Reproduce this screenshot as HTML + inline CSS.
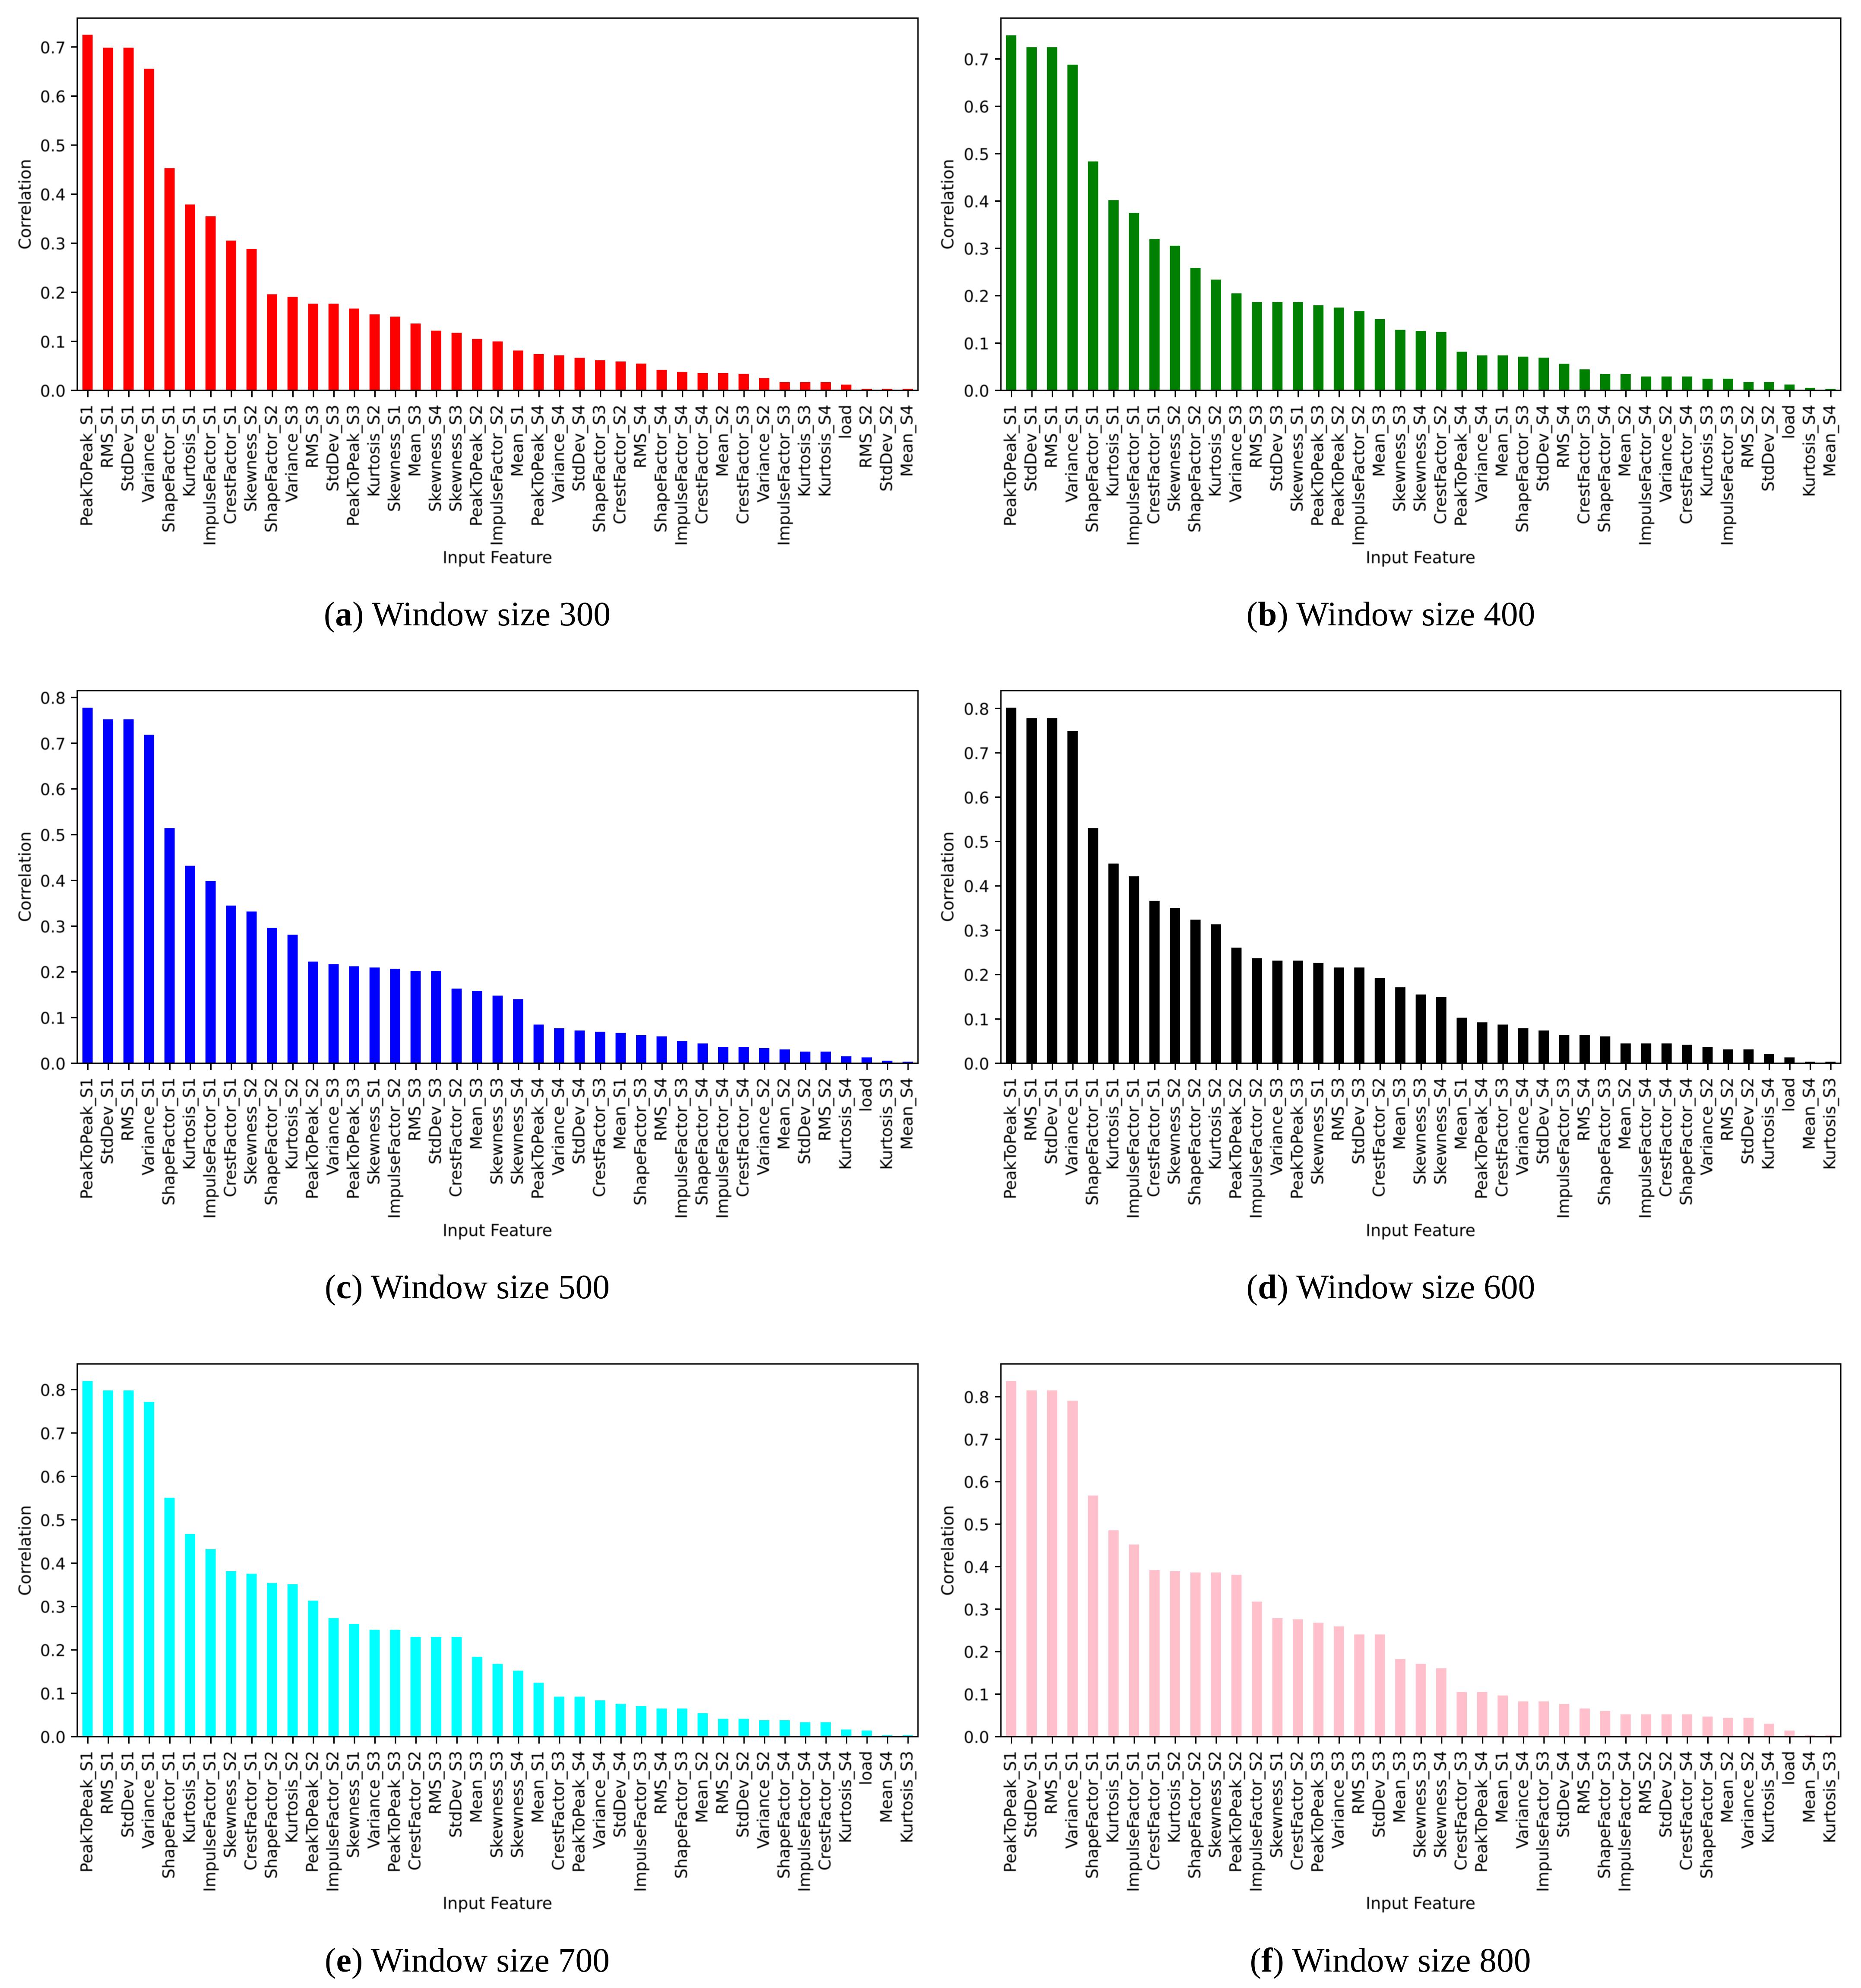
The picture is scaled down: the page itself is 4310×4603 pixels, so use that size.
<!DOCTYPE html>
<html lang="en">
<head>
<meta charset="utf-8">
<title>Feature correlation by window size</title>
<style>
html,body{margin:0;padding:0;background:#fff;}
svg{display:block;}
.t{font-family:"DejaVu Sans",sans-serif;font-size:37.2px;fill:#000;filter:blur(0.7px);}
.a{font-size:38px;}
.cap{font-family:"Liberation Serif",serif;font-size:79.5px;fill:#000;text-anchor:middle;}
.cap tspan{font-weight:bold;}
</style>
</head>
<body>
<svg id="figure" xmlns="http://www.w3.org/2000/svg" width="4310" height="4603" viewBox="0 0 4310 4603">
<rect x="0" y="0" width="4310" height="4603" fill="#ffffff"/>

<g id="panel-a">
<text class="t a" transform="translate(71,473) rotate(-90)" text-anchor="middle">Correlation</text>
<text class="t a" x="1152" y="1304" text-anchor="middle">Input Feature</text>
<text class="cap" x="1082" y="1448">(<tspan>a</tspan>) Window size 300</text>
</g>
<g id="panel-b">
<text class="t a" transform="translate(2208,473) rotate(-90)" text-anchor="middle">Correlation</text>
<text class="t a" x="3290" y="1304" text-anchor="middle">Input Feature</text>
<text class="cap" x="3221" y="1448">(<tspan>b</tspan>) Window size 400</text>
</g>
<g id="panel-c">
<text class="t a" transform="translate(71,2030) rotate(-90)" text-anchor="middle">Correlation</text>
<text class="t a" x="1152" y="2862" text-anchor="middle">Input Feature</text>
<text class="cap" x="1082" y="3006">(<tspan>c</tspan>) Window size 500</text>
</g>
<g id="panel-d">
<text class="t a" transform="translate(2208,2030) rotate(-90)" text-anchor="middle">Correlation</text>
<text class="t a" x="3290" y="2862" text-anchor="middle">Input Feature</text>
<text class="cap" x="3221" y="3006">(<tspan>d</tspan>) Window size 600</text>
</g>
<g id="panel-e">
<text class="t a" transform="translate(71,3590) rotate(-90)" text-anchor="middle">Correlation</text>
<text class="t a" x="1152" y="4420" text-anchor="middle">Input Feature</text>
<text class="cap" x="1082" y="4565">(<tspan>e</tspan>) Window size 700</text>
</g>
<g id="panel-f">
<text class="t a" transform="translate(2208,3590) rotate(-90)" text-anchor="middle">Correlation</text>
<text class="t a" x="3290" y="4420" text-anchor="middle">Input Feature</text>
<text class="cap" x="3220" y="4565">(<tspan>f</tspan>) Window size 800</text>
</g>
</svg>

<script>
const categoriesA = ["PeakToPeak_S1","RMS_S1","StdDev_S1","Variance_S1","ShapeFactor_S1","Kurtosis_S1","ImpulseFactor_S1","CrestFactor_S1","Skewness_S2","ShapeFactor_S2","Variance_S3","RMS_S3","StdDev_S3","PeakToPeak_S3","Kurtosis_S2","Skewness_S1","Mean_S3","Skewness_S4","Skewness_S3","PeakToPeak_S2","ImpulseFactor_S2","Mean_S1","PeakToPeak_S4","Variance_S4","StdDev_S4","ShapeFactor_S3","CrestFactor_S2","RMS_S4","ShapeFactor_S4","ImpulseFactor_S4","CrestFactor_S4","Mean_S2","CrestFactor_S3","Variance_S2","ImpulseFactor_S3","Kurtosis_S3","Kurtosis_S4","load","RMS_S2","StdDev_S2","Mean_S4"];
const valuesA = [0.7249,0.6985,0.6985,0.6558,0.4531,0.379,0.3549,0.3054,0.2886,0.196,0.1909,0.1769,0.1769,0.1668,0.155,0.1505,0.1364,0.1218,0.1174,0.105,0.0999,0.0814,0.0741,0.0716,0.0665,0.0615,0.059,0.0548,0.0421,0.0379,0.0354,0.0354,0.0337,0.0253,0.0168,0.0168,0.0168,0.0118,0.0035,0.0035,0.0035];

const categoriesB = ["PeakToPeak_S1","StdDev_S1","RMS_S1","Variance_S1","ShapeFactor_S1","Kurtosis_S1","ImpulseFactor_S1","CrestFactor_S1","Skewness_S2","ShapeFactor_S2","Kurtosis_S2","Variance_S3","RMS_S3","StdDev_S3","Skewness_S1","PeakToPeak_S3","PeakToPeak_S2","ImpulseFactor_S2","Mean_S3","Skewness_S3","Skewness_S4","CrestFactor_S2","PeakToPeak_S4","Variance_S4","Mean_S1","ShapeFactor_S3","StdDev_S4","RMS_S4","CrestFactor_S3","ShapeFactor_S4","Mean_S2","ImpulseFactor_S4","Variance_S2","CrestFactor_S4","Kurtosis_S3","ImpulseFactor_S3","RMS_S2","StdDev_S2","load","Kurtosis_S4","Mean_S4"];
const valuesB = [0.75,0.725,0.725,0.688,0.4837,0.402,0.375,0.32,0.3057,0.259,0.234,0.205,0.187,0.187,0.187,0.18,0.175,0.1676,0.1505,0.128,0.1257,0.1236,0.0817,0.074,0.074,0.0714,0.0693,0.0564,0.0445,0.0347,0.0347,0.0295,0.0295,0.0295,0.0248,0.0248,0.0176,0.0176,0.0124,0.0056,0.0035];

const categoriesC = ["PeakToPeak_S1","StdDev_S1","RMS_S1","Variance_S1","ShapeFactor_S1","Kurtosis_S1","ImpulseFactor_S1","CrestFactor_S1","Skewness_S2","ShapeFactor_S2","Kurtosis_S2","PeakToPeak_S2","Variance_S3","PeakToPeak_S3","Skewness_S1","ImpulseFactor_S2","RMS_S3","StdDev_S3","CrestFactor_S2","Mean_S3","Skewness_S3","Skewness_S4","PeakToPeak_S4","Variance_S4","StdDev_S4","CrestFactor_S3","Mean_S1","ShapeFactor_S3","RMS_S4","ImpulseFactor_S3","ShapeFactor_S4","ImpulseFactor_S4","CrestFactor_S4","Variance_S2","Mean_S2","StdDev_S2","RMS_S2","Kurtosis_S4","load","Kurtosis_S3","Mean_S4"];
const valuesC = [0.7776,0.7524,0.7524,0.7186,0.5145,0.432,0.3987,0.345,0.332,0.2964,0.2813,0.2224,0.217,0.2122,0.2095,0.2069,0.202,0.202,0.1635,0.1586,0.148,0.1404,0.0847,0.0766,0.0718,0.0691,0.0665,0.0616,0.059,0.0488,0.0434,0.0359,0.0359,0.0332,0.0305,0.0257,0.0257,0.0155,0.0129,0.0058,0.0036];

const categoriesD = ["PeakToPeak_S1","RMS_S1","StdDev_S1","Variance_S1","ShapeFactor_S1","Kurtosis_S1","ImpulseFactor_S1","CrestFactor_S1","Skewness_S2","ShapeFactor_S2","Kurtosis_S2","PeakToPeak_S2","ImpulseFactor_S2","Variance_S3","PeakToPeak_S3","Skewness_S1","RMS_S3","StdDev_S3","CrestFactor_S2","Mean_S3","Skewness_S3","Skewness_S4","Mean_S1","PeakToPeak_S4","CrestFactor_S3","Variance_S4","StdDev_S4","ImpulseFactor_S3","RMS_S4","ShapeFactor_S3","Mean_S2","ImpulseFactor_S4","CrestFactor_S4","ShapeFactor_S4","Variance_S2","RMS_S2","StdDev_S2","Kurtosis_S4","load","Mean_S4","Kurtosis_S3"];
const valuesD = [0.8017,0.7779,0.7779,0.7492,0.5304,0.4503,0.4215,0.3663,0.3503,0.3238,0.3133,0.2608,0.237,0.2315,0.2315,0.2265,0.216,0.216,0.1923,0.1713,0.1552,0.1497,0.1028,0.0923,0.0873,0.079,0.074,0.0635,0.0635,0.0608,0.0448,0.0448,0.0448,0.042,0.037,0.0315,0.0315,0.021,0.0133,0.0036,0.0036];

const categoriesE = ["PeakToPeak_S1","RMS_S1","StdDev_S1","Variance_S1","ShapeFactor_S1","Kurtosis_S1","ImpulseFactor_S1","Skewness_S2","CrestFactor_S1","ShapeFactor_S2","Kurtosis_S2","PeakToPeak_S2","ImpulseFactor_S2","Skewness_S1","Variance_S3","PeakToPeak_S3","CrestFactor_S2","RMS_S3","StdDev_S3","Mean_S3","Skewness_S3","Skewness_S4","Mean_S1","CrestFactor_S3","PeakToPeak_S4","Variance_S4","StdDev_S4","ImpulseFactor_S3","RMS_S4","ShapeFactor_S3","Mean_S2","RMS_S2","StdDev_S2","Variance_S2","ShapeFactor_S4","ImpulseFactor_S4","CrestFactor_S4","Kurtosis_S4","load","Mean_S4","Kurtosis_S3"];
const valuesE = [0.8198,0.7983,0.7983,0.7718,0.5508,0.4672,0.4322,0.3814,0.3757,0.3542,0.3514,0.3136,0.2734,0.2599,0.2463,0.2463,0.23,0.23,0.23,0.1842,0.1678,0.152,0.1243,0.0921,0.0921,0.0836,0.0757,0.0706,0.065,0.065,0.0542,0.0412,0.0412,0.0379,0.0379,0.0333,0.0333,0.0164,0.0141,0.0036,0.0036];

const categoriesF = ["PeakToPeak_S1","StdDev_S1","RMS_S1","Variance_S1","ShapeFactor_S1","Kurtosis_S1","ImpulseFactor_S1","CrestFactor_S1","Kurtosis_S2","ShapeFactor_S2","Skewness_S2","PeakToPeak_S2","ImpulseFactor_S2","Skewness_S1","CrestFactor_S2","PeakToPeak_S3","Variance_S3","RMS_S3","StdDev_S3","Mean_S3","Skewness_S3","Skewness_S4","CrestFactor_S3","PeakToPeak_S4","Mean_S1","Variance_S4","ImpulseFactor_S3","StdDev_S4","RMS_S4","ShapeFactor_S3","ImpulseFactor_S4","RMS_S2","StdDev_S2","CrestFactor_S4","ShapeFactor_S4","Mean_S2","Variance_S2","Kurtosis_S4","load","Mean_S4","Kurtosis_S3"];
const valuesF = [0.8368,0.8149,0.8149,0.7907,0.5675,0.4856,0.4521,0.3922,0.3893,0.3864,0.3864,0.3812,0.3178,0.2791,0.2762,0.2682,0.2595,0.2405,0.2405,0.1828,0.1713,0.1609,0.105,0.105,0.0969,0.083,0.083,0.0773,0.0663,0.0606,0.0525,0.0525,0.0525,0.0525,0.0473,0.0444,0.0444,0.0306,0.0144,0.0036,0.0036];

const tickValues = [0,0.1,0.2,0.3,0.4,0.5,0.6,0.7,0.8];
const tickLabels = ["0.0","0.1","0.2","0.3","0.4","0.5","0.6","0.7","0.8"];
const yMaxA = 0.7588;
const yMaxB = 0.7863;
const yMaxC = 0.8151;
const yMaxD = 0.8403;
const yMaxE = 0.8593;
const yMaxF = 0.8772;

const NS = 'http://www.w3.org/2000/svg';
function make(parent, tag, attrs, text) {
  const el = document.createElementNS(NS, tag);
  for (const k in attrs) el.setAttribute(k, attrs[k]);
  if (text !== undefined) el.textContent = text;
  parent.appendChild(el);
  return el;
}

function drawPanel(id, left, right, top, bottom, color, categories, values, yMax) {
  const host = document.getElementById(id);
  const plot = make(host, 'g', {});
  
  
  const step = (right - left) / categories.length;
  const xScale = i => left + (i + 0.5) * step;
  const yScale = v => bottom - (v / yMax) * (bottom - top);
  const barWidth = step * 0.5;

  values.forEach((v, i) => {
    const bar = make(plot, 'rect', {x: xScale(i) - barWidth / 2, y: yScale(v), width: barWidth, height: bottom - yScale(v), fill: color});
    
    
  });

  categories.forEach((c, i) => {
    const tick = make(plot, 'line', {x1: xScale(i) + 0.8, x2: xScale(i) + 0.8, y1: bottom, y2: bottom + 16, stroke: '#000', 'stroke-width': 3.2});
    
    
    const label = make(plot, 'text', {class: 't', 'text-anchor': 'end', transform: 'translate(' + (xScale(i) + 11) + ',' + (bottom + 33) + ') rotate(-90)'}, c);
    
    
  });

  tickValues.forEach((t, i) => {
    if (t > yMax) return;
    const tick = make(plot, 'line', {x1: left - 14, x2: left, y1: yScale(t), y2: yScale(t), stroke: '#000', 'stroke-width': 3.2});
    
    
    const label = make(plot, 'text', {class: 't', 'text-anchor': 'end', x: left - 27, y: yScale(t) + 14.5}, tickLabels[i]);
    
    
  });

  const frame = make(plot, 'rect', {x: left, y: top, width: right - left, height: bottom - top, fill: 'none', stroke: '#000', 'stroke-width': 3.2});
  
  
}

drawPanel('panel-a', 179, 2126, 42, 904, '#ff0000', categoriesA, valuesA, yMaxA);
drawPanel('panel-b', 2318, 4263, 42, 904, '#008000', categoriesB, valuesB, yMaxB);
drawPanel('panel-c', 179, 2126, 1599, 2462, '#0000ff', categoriesC, valuesC, yMaxC);
drawPanel('panel-d', 2318, 4263, 1599, 2462, '#000000', categoriesD, valuesD, yMaxD);
drawPanel('panel-e', 179, 2126, 3158, 4021, '#00ffff', categoriesE, valuesE, yMaxE);
drawPanel('panel-f', 2318, 4263, 3158, 4021, '#ffc0cb', categoriesF, valuesF, yMaxF);
</script>
</body>
</html>
